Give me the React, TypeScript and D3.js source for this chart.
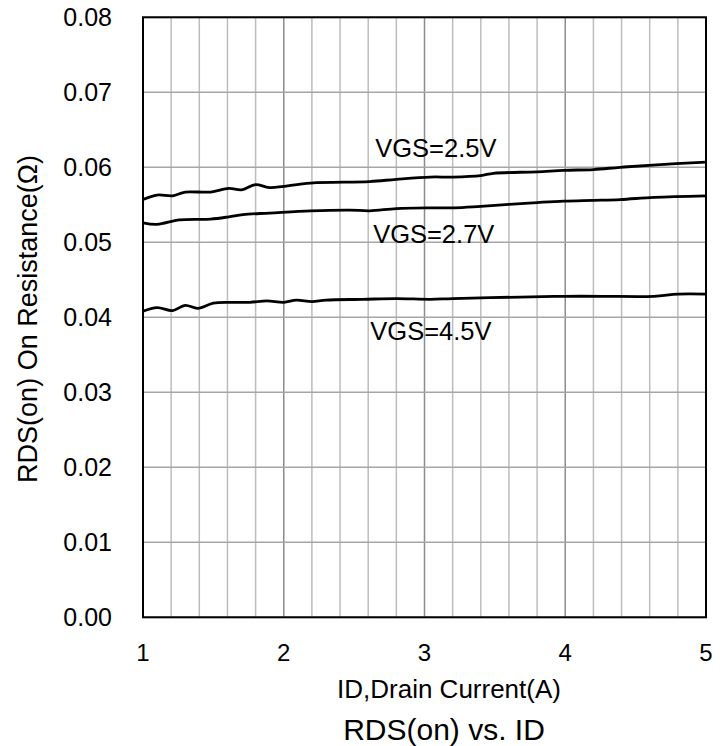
import React from "react";
import * as d3 from "d3";

// ---- data ----
const xTicks = [1, 2, 3, 4, 5];
const yTicks = [0, 0.01, 0.02, 0.03, 0.04, 0.05, 0.06, 0.07, 0.08];

const idVgs25 = [1.0, 1.1, 1.21, 1.3, 1.48, 1.61, 1.7, 1.8, 1.9, 2.19, 2.61, 2.8, 3.04, 3.2, 3.4, 3.49, 3.8, 3.99, 4.2, 4.39, 4.62, 5.0];
const rdsVgs25 = [0.0557, 0.0563, 0.0562, 0.0567, 0.0567, 0.0572, 0.057, 0.0577, 0.0573, 0.0579, 0.0581, 0.0584, 0.0587, 0.0587, 0.0589, 0.0592, 0.0594, 0.0596, 0.0597, 0.06, 0.0603, 0.0607];

const idVgs27 = [1.0, 1.1, 1.26, 1.48, 1.61, 1.71, 1.9, 2.19, 2.47, 2.61, 2.8, 3.04, 3.21, 3.4, 3.8, 3.99, 4.2, 4.39, 4.63, 5.0];
const rdsVgs27 = [0.0526, 0.0524, 0.053, 0.0531, 0.0534, 0.0537, 0.0539, 0.0542, 0.0543, 0.0542, 0.0545, 0.0546, 0.0546, 0.0548, 0.0553, 0.0555, 0.0556, 0.0557, 0.056, 0.0562];

const idVgs45 = [1.0, 1.1, 1.21, 1.3, 1.39, 1.5, 1.62, 1.76, 1.88, 2.0, 2.09, 2.2, 2.3, 2.56, 2.8, 3.04, 3.2, 3.68, 3.99, 4.27, 4.63, 4.8, 5.0];
const rdsVgs45 = [0.0408, 0.0413, 0.0409, 0.0416, 0.0412, 0.0419, 0.042, 0.042, 0.0422, 0.042, 0.0423, 0.0421, 0.0423, 0.0424, 0.0425, 0.0424, 0.0425, 0.0427, 0.0428, 0.0428, 0.0428, 0.0431, 0.0431];

const seriesLabels = ["VGS=2.5V", "VGS=2.7V", "VGS=4.5V"];
const labelAnchorX = [2.65, 2.635, 2.615];
const labelAnchorY = [0.0614, 0.0499, 0.037];

const xTitle = "ID,Drain Current(A)";
const yTitle = "RDS(on) On Resistance(Ω)";
const chartTitle = "RDS(on) vs. ID";

export default function App() {
  const W = 727, H = 746;
  const left = 143, right = 706, top = 17.3, bottom = 617.3;
  const x = d3.scaleLinear().domain([1, 5]).range([left, right]);
  const y = d3.scaleLinear().domain([0, 0.08]).range([bottom, top]);
  const line = d3
    .line<[number, number]>()
    .x((d) => x(d[0]))
    .y((d) => y(d[1]))
    .curve(d3.curveCatmullRom.alpha(0.5));

  const series = [
    d3.zip(idVgs25, rdsVgs25) as [number, number][],
    d3.zip(idVgs27, rdsVgs27) as [number, number][],
    d3.zip(idVgs45, rdsVgs45) as [number, number][],
  ];

  const minorX = d3.range(1, 5.0001, 0.2).map((v) => Math.round(v * 10) / 10);
  const font = "Arial, 'Liberation Sans', sans-serif";

  return (
    <svg
      width={W}
      height={H}
      style={{ position: "absolute", left: 0, top: 0, background: "#fff" }}
      fontFamily={font}
    >
      {/* vertical grid */}
      {minorX.map((v, i) => {
        const major = Math.abs(v - Math.round(v)) < 1e-6;
        return (
          <line
            key={"vx" + i}
            x1={x(v)}
            x2={x(v)}
            y1={top}
            y2={bottom}
            stroke={major ? "#8c8c8c" : "#bdbdbd"}
            strokeWidth={1.5}
          />
        );
      })}
      {/* horizontal grid */}
      {yTicks.map((v, i) => (
        <line key={"hy" + i} x1={left} x2={right} y1={y(v)} y2={y(v)} stroke="#a6a6a6" strokeWidth={1.5} />
      ))}
      {/* frame */}
      <rect x={left} y={top} width={right - left} height={bottom - top} fill="none" stroke="#000" strokeWidth={2} />

      {/* curves */}
      {series.map((s, i) => (
        <path key={"s" + i} d={line(s) || ""} fill="none" stroke="#000" strokeWidth={2.8} strokeLinejoin="round" />
      ))}

      {/* curve labels */}
      {seriesLabels.map((t, i) => (
        <text key={"l" + i} x={x(labelAnchorX[i])} y={y(labelAnchorY[i])} fontSize={25.5} fill="#000">
          {t}
        </text>
      ))}

      {/* y tick labels */}
      {yTicks.map((v, i) => (
        <text key={"yt" + i} x={112} y={y(v)} dy="0.36em" textAnchor="end" fontSize={25} fill="#000">
          {v.toFixed(2)}
        </text>
      ))}
      {/* x tick labels */}
      {xTicks.map((v, i) => (
        <text key={"xt" + i} x={x(v)} y={661} textAnchor="middle" fontSize={24} fill="#000">
          {v}
        </text>
      ))}

      {/* axis titles */}
      <text x={449} y={698} textAnchor="middle" fontSize={26} fill="#000">
        {xTitle}
      </text>
      <text x={444} y={740} textAnchor="middle" fontSize={30} fill="#000">
        {chartTitle}
      </text>
      <text transform={`translate(37, ${319}) rotate(-90)`} textAnchor="middle" fontSize={27} fill="#000">
        {yTitle}
      </text>
    </svg>
  );
}
